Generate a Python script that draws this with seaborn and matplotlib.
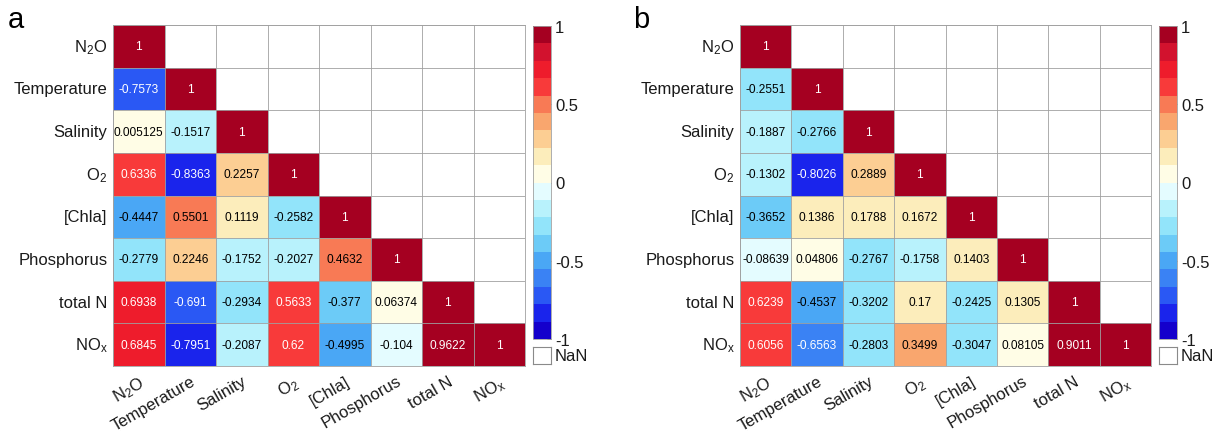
import numpy as np
import pandas as pd
import matplotlib
matplotlib.use("Agg")
import matplotlib.pyplot as plt
from matplotlib.colors import ListedColormap
from matplotlib.ticker import FixedLocator
import seaborn as sns

# ---------------- data ----------------
variables = ["N$_2$O", "Temperature", "Salinity", "O$_2$", "[Chla]",
             "Phosphorus", "total N", "NO$_\\mathrm{x}$"]

# lower-triangle correlation rows (panel a)
a_rows = [
    [1],
    [-0.7573, 1],
    [0.005125, -0.1517, 1],
    [0.6336, -0.8363, 0.2257, 1],
    [-0.4447, 0.5501, 0.1119, -0.2582, 1],
    [-0.2779, 0.2246, -0.1752, -0.2027, 0.4632, 1],
    [0.6938, -0.691, -0.2934, 0.5633, -0.377, 0.06374, 1],
    [0.6845, -0.7951, -0.2087, 0.62, -0.4995, -0.104, 0.9622, 1],
]
# lower-triangle correlation rows (panel b)
b_rows = [
    [1],
    [-0.2551, 1],
    [-0.1887, -0.2766, 1],
    [-0.1302, -0.8026, 0.2889, 1],
    [-0.3652, 0.1386, 0.1788, 0.1672, 1],
    [-0.08639, 0.04806, -0.2767, -0.1758, 0.1403, 1],
    [0.6239, -0.4537, -0.3202, 0.17, -0.2425, 0.1305, 1],
    [0.6056, -0.6563, -0.2803, 0.3499, -0.3047, 0.08105, 0.9011, 1],
]
panel_labels = ["a", "b"]
cbar_ticks = [-1, -0.5, 0, 0.5, 1]
cbar_ticklabels = ["-1", "-0.5", "0", "0.5", "1"]

# 18-step diverging colormap (from -1 to 1)
level_colors = [
    "#1400CC", "#1A24EC", "#2A58F4", "#3A82F4", "#4AA7F5", "#6CCBF7",
    "#92E4FA", "#B8F2FC", "#E4FCFF",
    "#FFFDE6", "#FCEDBB", "#FCCE93", "#F9A66E", "#F87A55", "#F83A3A",
    "#EE1C2C", "#D2122E", "#A50021",
]

# ---------------- style ----------------
sns.set_theme(style="white")
plt.rcParams["font.family"] = ["Liberation Sans", "DejaVu Sans"]
plt.rcParams["mathtext.fontset"] = "custom"
plt.rcParams["mathtext.rm"] = "Liberation Sans"
plt.rcParams["mathtext.it"] = "Liberation Sans:italic"
plt.rcParams["mathtext.bf"] = "Liberation Sans:bold"

GRID = "#a0a0a0"
TXT = "#1a1a1a"
cmap = ListedColormap(level_colors)


def to_frame(rows):
    n = len(variables)
    m = np.full((n, n), np.nan)
    for i, r in enumerate(rows):
        m[i, :len(r)] = r
    return pd.DataFrame(m, index=variables, columns=variables)


W, H = 1217, 435
fig = plt.figure(figsize=(W / 100, H / 100), dpi=100)


def fx(px):
    return px / W


def fy(py):
    return 1 - py / H


panels = [
    dict(rows=a_rows, x0=113, x1=525, cb=533, lab=8),
    dict(rows=b_rows, x0=740, x1=1151, cb=1159, lab=633),
]

for p, lab in zip(panels, panel_labels):
    df = to_frame(p["rows"])
    ax = fig.add_axes([fx(p["x0"]), fy(367), fx(p["x1"] - p["x0"]), (367 - 26) / H])
    cax = fig.add_axes([fx(p["cb"]), fy(340), fx(18), (340 - 27) / H])
    sns.heatmap(df, ax=ax, cbar_ax=cax, cmap=cmap, vmin=-1, vmax=1,
                mask=df.isna(), annot=True, fmt=".4g",
                annot_kws=dict(fontsize=8.6),
                linewidths=0, cbar_kws=dict(ticks=cbar_ticks))
    for t in ax.texts:
        v = float(t.get_text())
        t.set_color("white" if abs(v) > 0.555 else "black")

    # grid for all cells (including the empty NaN ones)
    n = len(variables)
    ax.set_axisbelow(False)
    ax.xaxis.set_minor_locator(FixedLocator(range(n + 1)))
    ax.yaxis.set_minor_locator(FixedLocator(range(n + 1)))
    ax.grid(which="minor", color=GRID, linewidth=0.6)
    ax.grid(which="major", visible=False)
    ax.tick_params(which="both", length=0)
    for s in ax.spines.values():
        s.set_visible(True)
        s.set_color(GRID)
        s.set_linewidth(0.6)

    ax.set_yticklabels(variables, rotation=0, fontsize=12, color=TXT)
    ax.tick_params(axis="y", pad=4)
    ax.set_xticklabels(variables, rotation=30, ha="right", va="top",
                       rotation_mode="anchor", fontsize=12, color=TXT)
    ax.tick_params(axis="x", pad=5)
    ax.set_xlabel("")
    ax.set_ylabel("")

    # colorbar styling
    cb = ax.collections[0].colorbar
    cb.set_ticklabels(cbar_ticklabels)
    cb.outline.set_edgecolor(GRID)
    cb.outline.set_linewidth(0.6)
    cax.tick_params(labelsize=12, colors=TXT, direction="in", length=3,
                    width=0.6, pad=3)
    cax.tick_params(axis="y", which="both", color="#555555")

    # NaN legend box
    nax = fig.add_axes([fx(p["cb"]), fy(365), fx(18), 17 / H])
    nax.set_xticks([])
    nax.set_yticks([])
    nax.set_facecolor("white")
    for s in nax.spines.values():
        s.set_visible(True)
        s.set_color("#8a8a8a")
        s.set_linewidth(0.8)
    fig.text(fx(p["cb"] + 22), fy(357), "NaN", fontsize=12, color=TXT,
             ha="left", va="center")

    # panel letter
    fig.text(fx(p["lab"]), fy(28), lab, fontsize=21, color="black",
             ha="left", va="baseline")

fig.savefig("out.png", dpi=100)
